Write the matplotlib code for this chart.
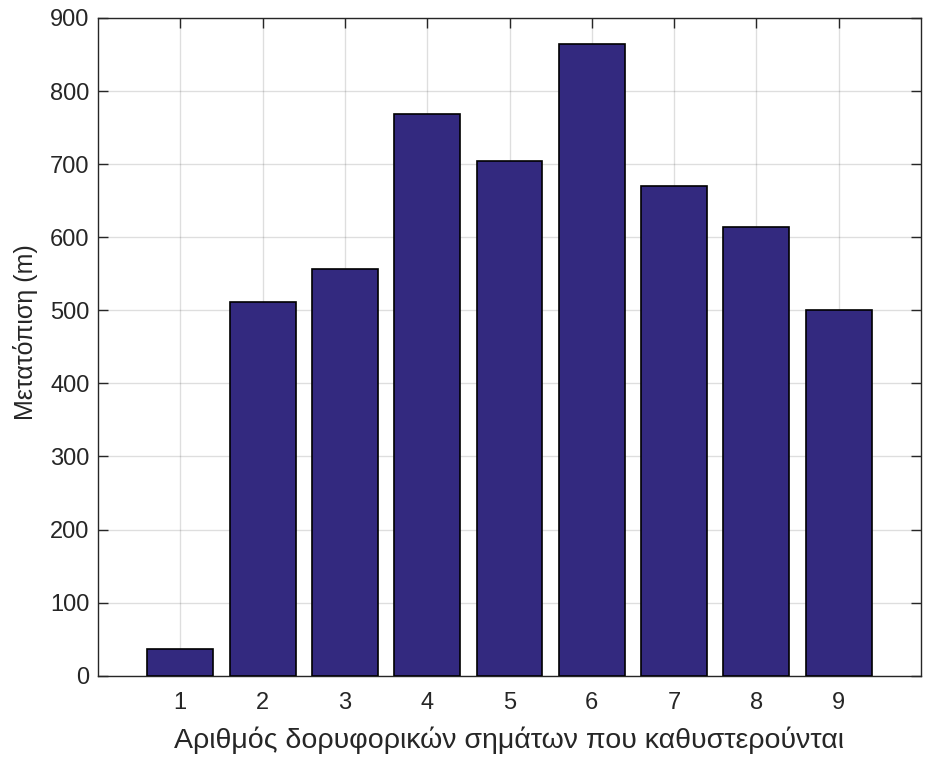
import matplotlib
matplotlib.use("Agg")
import matplotlib.pyplot as plt

categories = [1, 2, 3, 4, 5, 6, 7, 8, 9]
values = [36, 512, 556, 769, 704, 864, 670, 614, 500]
yticks = [0, 100, 200, 300, 400, 500, 600, 700, 800, 900]
xlabel = "Αριθμός δορυφορικών σημάτων που καθυστερούνται"
ylabel = "Μετατόπιση (m)"

plt.rcParams['font.family'] = ['Liberation Sans', 'DejaVu Sans']
dark = '#262626'

fig = plt.figure(figsize=(9.25, 7.61), dpi=100)
ax = fig.add_axes([98/925, 1 - 675.7/761, (921 - 98)/925, (675.7 - 18)/761])

ax.bar(categories, values, width=0.8, color='#33297f', edgecolor='black', linewidth=1.2, zorder=3)

ax.set_xlim(0, 10)
ax.set_ylim(0, 900)
ax.set_xticks(categories)
ax.set_yticks(yticks)
ax.grid(True, color=dark, alpha=0.15, linewidth=1.0, zorder=0)
ax.set_axisbelow(True)

ax.tick_params(direction='in', length=7, width=1, colors=dark, labelsize=17,
               top=True, right=True, labelcolor=dark)
ax.tick_params(axis='y', pad=6)
ax.tick_params(axis='x', pad=12)
for s in ax.spines.values():
    s.set_color(dark)
    s.set_linewidth(1.0)

ax.set_xlabel(xlabel, fontsize=20.5, color=dark)
ax.set_ylabel(ylabel, fontsize=18, color=dark)
ax.xaxis.set_label_coords(0.5, -0.077)
ax.yaxis.set_label_coords(-0.0729, 0.5226)

fig.savefig("out.png", dpi=100)
